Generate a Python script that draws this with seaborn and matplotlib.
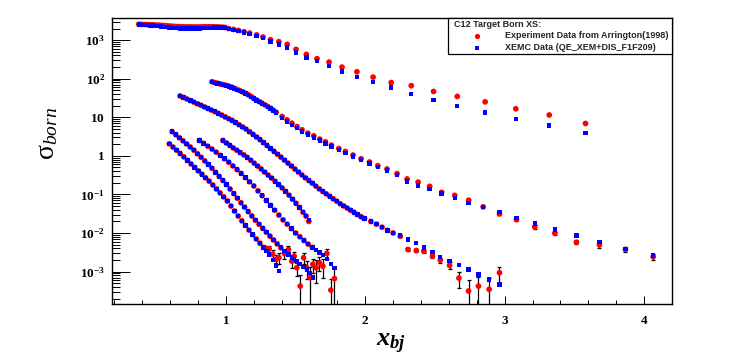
import numpy as np
import pandas as pd
import matplotlib
matplotlib.use("Agg")
import matplotlib.pyplot as plt
import seaborn as sns
from matplotlib.ticker import FixedLocator, LogLocator, MultipleLocator, NullFormatter
from matplotlib.patches import Rectangle
from matplotlib.lines import Line2D

# ---------------- data (cross sections stored as log10) ----------------
# setting T (top curve)
t_x = [0.375,0.395,0.415,0.435,0.455,0.475,0.495,0.515,0.535,0.555,0.575,0.595,0.615,0.635,0.655,0.675,
       0.695,0.715,0.735,0.755,0.775,0.795,0.815,0.835,0.855,0.875,0.895,0.915,0.935,0.955,0.975,0.995,
       1.02,1.055,1.09,1.13,1.17,1.22,1.266,1.32,1.38,1.44,1.503,1.577,1.654,1.74,1.833,1.94,2.056,2.186,
       2.33,2.49,2.66,2.86,3.08,3.32,3.58]
t_exp_log = [3.41,3.408,3.406,3.403,3.40,3.397,3.393,3.39,3.384,3.378,3.372,3.366,3.36,3.355,3.35,3.347,
             3.345,3.343,3.342,3.342,3.342,3.342,3.344,3.345,3.346,3.347,3.347,3.345,3.343,3.34,3.335,3.328,
             3.30,3.278,3.252,3.218,3.183,3.135,3.08,3.01,2.96,2.89,2.76,2.63,2.52,2.43,2.30,2.18,2.04,1.90,
             1.82,1.67,1.54,1.40,1.22,1.06,0.84]
t_xemc_log = [3.405,3.40,3.395,3.39,3.383,3.376,3.368,3.36,3.352,3.343,3.335,3.327,3.32,3.313,3.307,3.303,
              3.30,3.298,3.297,3.297,3.298,3.30,3.303,3.307,3.312,3.317,3.321,3.324,3.326,3.327,3.326,3.322,
              3.29,3.265,3.238,3.202,3.165,3.115,3.05,2.96,2.89,2.81,2.68,2.55,2.46,2.33,2.19,2.05,1.91,1.77,
              1.60,1.45,1.29,1.12,0.96,0.79,0.60]
t_err_pct = [0] * 57

# setting 2
c2_x = [0.90,0.92,0.94,0.96,0.98,1.00,1.02,1.04,1.06,1.08,1.10,1.12,1.14,1.16,1.18,1.20,1.22,1.24,1.26,1.28,
        1.30,1.32,1.34,1.36,
        1.403,1.439,1.474,1.51,1.546,1.587,1.63,1.673,1.714,1.757,1.81,1.857,1.912,1.97,2.03,2.09,2.156,
        2.228,2.30,2.379,2.462,2.548,2.642,2.742,2.846,2.963,3.085,3.216,3.36,3.515,3.68,3.867,4.066]
c2_exp_log = [1.922,1.90,1.882,1.863,1.848,1.83,1.808,1.782,1.752,1.722,1.692,1.66,1.625,1.585,1.54,1.492,
              1.447,1.405,1.362,1.322,1.28,1.233,1.183,1.13,
              1.02,0.933,0.847,0.76,0.674,0.589,0.519,0.434,0.364,0.279,0.19,0.114,0.021,-0.075,-0.16,
              -0.256,-0.34,-0.46,-0.60,-0.68,-0.79,-0.946,-1.023,-1.15,-1.323,-1.505,-1.651,-1.84,-2.005,
              -2.24,-2.306,-2.426,-2.615]
c2_xemc_log = [1.915,1.893,1.875,1.856,1.84,1.822,1.80,1.774,1.744,1.714,1.684,1.652,1.617,1.577,1.532,1.484,
               1.439,1.397,1.354,1.314,1.272,1.225,1.175,1.12,
               0.98,0.893,0.807,0.72,0.634,0.549,0.479,0.394,0.324,0.239,0.15,0.074,-0.019,-0.115,-0.20,
               -0.296,-0.38,-0.50,-0.66,-0.77,-0.858,-0.98,-1.09,-1.22,-1.323,-1.46,-1.607,-1.755,-1.91,
               -2.06,-2.24,-2.408,-2.58]
c2_err_pct = [0] * 49 + [8, 8, 10, 10, 12, 15, 15, 18]

# setting 3
c3_x = [0.671,0.695,0.72,0.745,0.77,0.795,0.82,0.845,0.87,0.895,0.92,0.945,0.97,0.995,1.02,1.045,1.07,1.095,
        1.12,1.145,1.17,1.195,1.22,1.245,1.27,1.295,1.32,1.345,1.37,1.395,1.42,1.445,1.47,1.495,1.52,1.545,
        1.57,1.595,1.62,1.645,1.67,1.695,1.72,1.745,1.77,1.795,1.82,1.845,1.87,1.895,1.92,1.945,1.97,1.995,
        2.04,2.08,2.12,2.16,2.20,
        2.251,2.306,2.366,2.42,2.482,2.538,2.605,2.672,2.741,2.812,2.889,2.963]
c3_dense_log = [1.553,1.514,1.474,1.433,1.393,1.352,1.312,1.270,1.229,1.188,1.147,1.102,1.056,1.009,0.963,
                0.917,0.863,0.806,0.749,0.691,0.625,0.557,0.488,0.42,0.344,0.269,0.193,0.118,0.042,-0.034,
                -0.111,-0.188,-0.265,-0.343,-0.42,-0.495,-0.567,-0.639,-0.711,-0.784,-0.856,-0.922,-0.985,
                -1.049,-1.113,-1.176,-1.24,-1.297,-1.353,-1.41,-1.466,-1.523,-1.577,-1.623,
                -1.70,-1.77,-1.85,-1.93,-2.00]
c3_exp_log = c3_dense_log + [-2.083,-2.426,-2.452,-2.47,-2.60,-2.703,-2.84,-3.168,-3.504,-3.375,-3.46,-3.03]
c3_xemc_log = c3_dense_log + [-2.06,-2.168,-2.253,-2.38,-2.496,-2.615,-2.718,-2.832,-2.943,-3.072,-3.20,-3.33]
c3_err_pct = [0] * 59 + [5, 8, 8, 10, 12, 15, 20, 45, 95, 70, 95, 45]

# setting 4
c4_x = [0.978,1.003,1.028,1.053,1.078,1.103,1.128,1.153,1.178,1.203,1.228,1.253,1.278,1.303,1.328,1.353,
        1.378,1.403,1.428,1.453,1.478,1.503,1.528,1.553,1.575,1.595]
c4_exp_log = [0.398,0.334,0.27,0.205,0.145,0.085,0.025,-0.04,-0.115,-0.19,-0.265,-0.34,-0.42,-0.50,-0.575,
              -0.66,-0.745,-0.83,-0.92,-1.02,-1.125,-1.23,-1.34,-1.46,-1.56,-1.70]
c4_xemc_log = [0.398,0.334,0.27,0.205,0.145,0.085,0.025,-0.04,-0.115,-0.19,-0.265,-0.34,-0.42,-0.50,-0.575,
               -0.66,-0.745,-0.83,-0.92,-1.02,-1.125,-1.23,-1.34,-1.46,-1.56,-1.66]
c4_err_pct = [0] * 26

# setting 5
c5_x = [0.81,0.84,0.87,0.90,0.93,0.96,0.99,1.02,1.05,1.08,1.11,1.14,1.17,1.20,1.23,1.26,1.29,1.32,1.35,1.38,
        1.41,1.44,1.47,1.50,1.53,1.56,1.59,1.62,
        1.648,1.671,1.696,1.724,1.753,1.779]
c5_dense_log = [0.40,0.325,0.25,0.175,0.096,0.012,-0.072,-0.165,-0.26,-0.356,-0.456,-0.564,-0.672,-0.78,
                -0.906,-1.032,-1.158,-1.284,-1.41,-1.536,-1.658,-1.772,-1.886,-2.00,-2.096,-2.192,-2.288,-2.372]
c5_exp_log = c5_dense_log + [-2.90,-2.77,-2.86,-2.53,-3.48,-3.18]
c5_xemc_log = c5_dense_log + [-2.445,-2.505,-2.57,-2.68,-2.80,-2.91]
c5_err_pct = [0] * 28 + [60, 40, 50, 30, 95, 85]

# setting 6
c6_x = [0.614,0.64,0.666,0.692,0.718,0.744,0.77,0.796,0.822,0.848,0.874,0.90,0.926,0.952,0.978,1.004,1.03,
        1.056,1.082,1.108,1.134,1.16,1.186,1.212,1.238,1.264,1.29,1.316,1.342,1.368,1.394,
        1.42,1.449,1.473,1.49,1.509,1.533,1.557,1.58,1.604,1.624]
c6_dense_log = [0.63,0.55,0.47,0.39,0.31,0.23,0.149,0.056,-0.037,-0.13,-0.223,-0.322,-0.427,-0.532,-0.637,
                -0.742,-0.86,-0.978,-1.097,-1.215,-1.33,-1.444,-1.558,-1.67,-1.774,-1.878,-1.98,-2.08,-2.18,
                -2.28,-2.38]
c6_exp_log = c6_dense_log + [-2.53,-2.43,-2.73,-2.60,-2.90,-3.375,-2.64,-2.90,-3.16,-2.81]
c6_xemc_log = c6_dense_log + [-2.47,-2.56,-2.63,-2.68,-2.74,-2.81,-2.88,-2.95,-3.03,-3.15]
c6_err_pct = [0] * 31 + [30, 25, 35, 30, 40, 95, 30, 50, 95, 40]

# setting 7
c7_x = [0.594,0.62,0.646,0.672,0.698,0.724,0.75,0.776,0.802,0.828,0.854,0.88,0.906,0.932,0.958,0.984,1.01,
        1.036,1.062,1.088,1.114,1.14,1.166,1.192,1.218,1.244,1.27,
        1.29,1.31,1.336,1.36,1.38]
c7_dense_log = [0.313,0.229,0.145,0.06,-0.024,-0.116,-0.209,-0.30,-0.389,-0.478,-0.567,-0.656,-0.755,-0.858,
                -0.96,-1.063,-1.17,-1.30,-1.43,-1.56,-1.684,-1.804,-1.924,-2.043,-2.156,-2.265,-2.374]
c7_exp_log = c7_dense_log + [-2.40,-2.41,-2.55,-2.685,-2.64]
c7_xemc_log = c7_dense_log + [-2.46,-2.56,-2.70,-2.84,-2.99]
c7_err_pct = [0] * 27 + [15, 20, 25, 30, 30]

y_tick_values = [1e-3, 1e-2, 1e-1, 1, 10, 1e2, 1e3]
y_tick_labels = [r"$10^{-3}\,\,$", r"$10^{-2}\,\,$", r"$10^{-1}\,\,$", r"$1$", r"$10$",
                 r"$10^{2}\,\,$", r"$10^{3}\,\,$"]
x_tick_values = [1, 2, 3, 4]
x_tick_labels = ["1", "2", "3", "4"]
legend_header = "C12 Target Born XS:"
legend_exp = "Experiment Data from Arrington(1998)"
legend_xemc = "XEMC Data (QE_XEM+DIS_F1F209)"

# ---------------- build table ----------------
settings = [
    ("T", t_x, t_exp_log, t_xemc_log, t_err_pct),
    ("2", c2_x, c2_exp_log, c2_xemc_log, c2_err_pct),
    ("3", c3_x, c3_exp_log, c3_xemc_log, c3_err_pct),
    ("4", c4_x, c4_exp_log, c4_xemc_log, c4_err_pct),
    ("5", c5_x, c5_exp_log, c5_xemc_log, c5_err_pct),
    ("6", c6_x, c6_exp_log, c6_xemc_log, c6_err_pct),
    ("7", c7_x, c7_exp_log, c7_xemc_log, c7_err_pct),
]
exp_rows, xemc_rows = [], []
for name, xs, el, ml, ep in settings:
    assert len(xs) == len(el) == len(ml) == len(ep), name
    sig_e = np.power(10.0, np.array(el))
    sig_m = np.power(10.0, np.array(ml))
    exp_rows.append(pd.DataFrame({"x": xs, "sigma": sig_e, "err": sig_e * np.array(ep) / 100.0,
                                  "kind": "Experiment", "setting": name}))
    xemc_rows.append(pd.DataFrame({"x": xs, "sigma": sig_m, "err": 0.0,
                                   "kind": "XEMC", "setting": name}))
df = pd.concat(exp_rows + xemc_rows, ignore_index=True)

# ---------------- style ----------------
sns.set_theme(style="white")
plt.rcParams["font.family"] = ["Liberation Serif", "DejaVu Serif"]
plt.rcParams["mathtext.fontset"] = "custom"
plt.rcParams["mathtext.rm"] = "Liberation Serif:bold"
plt.rcParams["mathtext.it"] = "Liberation Serif:italic"
plt.rcParams["mathtext.bf"] = "Liberation Serif:bold:italic"
plt.rcParams["mathtext.sf"] = "Liberation Serif"

W, H = 747, 358
fig = plt.figure(figsize=(W / 100, H / 100), dpi=100)
fig.patch.set_facecolor("white")
# ROOT pad margins: left 0.15, right 0.10, bottom 0.15, top 0.05
ax = fig.add_axes([0.15, 0.15, 0.75, 0.80])
ax.set_facecolor("white")

ax.set_yscale("log")
ax.set_xlim(0.183, 4.203)
ax.set_ylim(1.42e-4, 3770)

# error bars (experiment)
eb = df[(df["kind"] == "Experiment") & (df["err"] > 0)]
ax.errorbar(eb["x"], eb["sigma"], yerr=eb["err"], fmt="none", ecolor="black",
            elinewidth=0.9, capsize=1.6, capthick=0.9, zorder=2)

sns.scatterplot(data=df, x="x", y="sigma", hue="kind", style="kind", size="kind",
                markers={"Experiment": "o", "XEMC": "s"},
                palette={"Experiment": "#ff0000", "XEMC": "#0000ff"},
                sizes={"Experiment": 17, "XEMC": 10},
                linewidth=0, legend=False, ax=ax, zorder=3)

ax.set_xlabel("")
ax.set_ylabel("")
for s in ax.spines.values():
    s.set_color("black")
    s.set_linewidth(1.0)
    s.set_visible(True)

ax.yaxis.set_major_locator(FixedLocator(y_tick_values))
ax.yaxis.set_minor_locator(LogLocator(base=10, subs=np.arange(2, 10), numticks=30))
ax.yaxis.set_minor_formatter(NullFormatter())
ax.set_yticklabels(y_tick_labels, fontsize=9.5)
ax.xaxis.set_major_locator(FixedLocator(x_tick_values))
ax.xaxis.set_minor_locator(MultipleLocator(0.2))
ax.set_xticklabels(x_tick_labels, fontsize=9.5, fontweight="bold", family="Liberation Serif")

ax.tick_params(axis="y", which="major", direction="in", length=12.7, width=0.7, color="black",
               pad=5.0, left=True, right=False, labelcolor="black")
ax.tick_params(axis="y", which="minor", direction="in", length=6.0, width=0.7, color="black",
               left=True, right=False)
ax.tick_params(axis="x", which="major", direction="in", length=6.0, width=0.7, color="black",
               pad=8, bottom=True, top=False, labelcolor="black")
ax.tick_params(axis="x", which="minor", direction="in", length=3.0, width=0.7, color="black",
               bottom=True, top=False)
ax.grid(False)

# axis titles
fig.text(48 / W, 1 - 133 / H, r"$\mathsf{\sigma}_{born}$", rotation=90, ha="center", va="center",
         fontsize=20, color="black")
fig.text(391 / W, 1 - 344 / H, r"$\mathbf{x}_{\mathbf{bj}}$", ha="center", va="center",
         fontsize=19, color="black")

# legend box (ROOT TLegend at NDC 0.6,0.85,0.9,0.95)
box = Rectangle((0.6, 0.85), 0.3, 0.10, transform=fig.transFigure,
                facecolor="white", edgecolor="black", linewidth=0.9, zorder=10)
fig.add_artist(box)

def fx(p):
    return p / W

def fy(p):
    return 1 - p / H

fig.text(fx(454), fy(24.2), legend_header, fontsize=6.5, fontweight="bold", family="Liberation Sans",
         va="center", ha="left", zorder=11)
fig.add_artist(Line2D([fx(476.7)], [fy(35.8)], marker="o", markersize=3.8, color="#ff0000",
                      markeredgewidth=0, linestyle="none", transform=fig.transFigure, zorder=11))
fig.add_artist(Line2D([fx(476.7)], [fy(47.8)], marker="s", markersize=2.9, color="#0000ff",
                      markeredgewidth=0, linestyle="none", transform=fig.transFigure, zorder=11))
fig.text(fx(505), fy(35.8), legend_exp, fontsize=6.5, fontweight="bold", family="Liberation Sans",
         va="center", ha="left", zorder=11)
fig.text(fx(505), fy(47.8), legend_xemc, fontsize=6.5, fontweight="bold", family="Liberation Sans",
         va="center", ha="left", zorder=11)

fig.savefig("out.png", dpi=100, facecolor="white")
